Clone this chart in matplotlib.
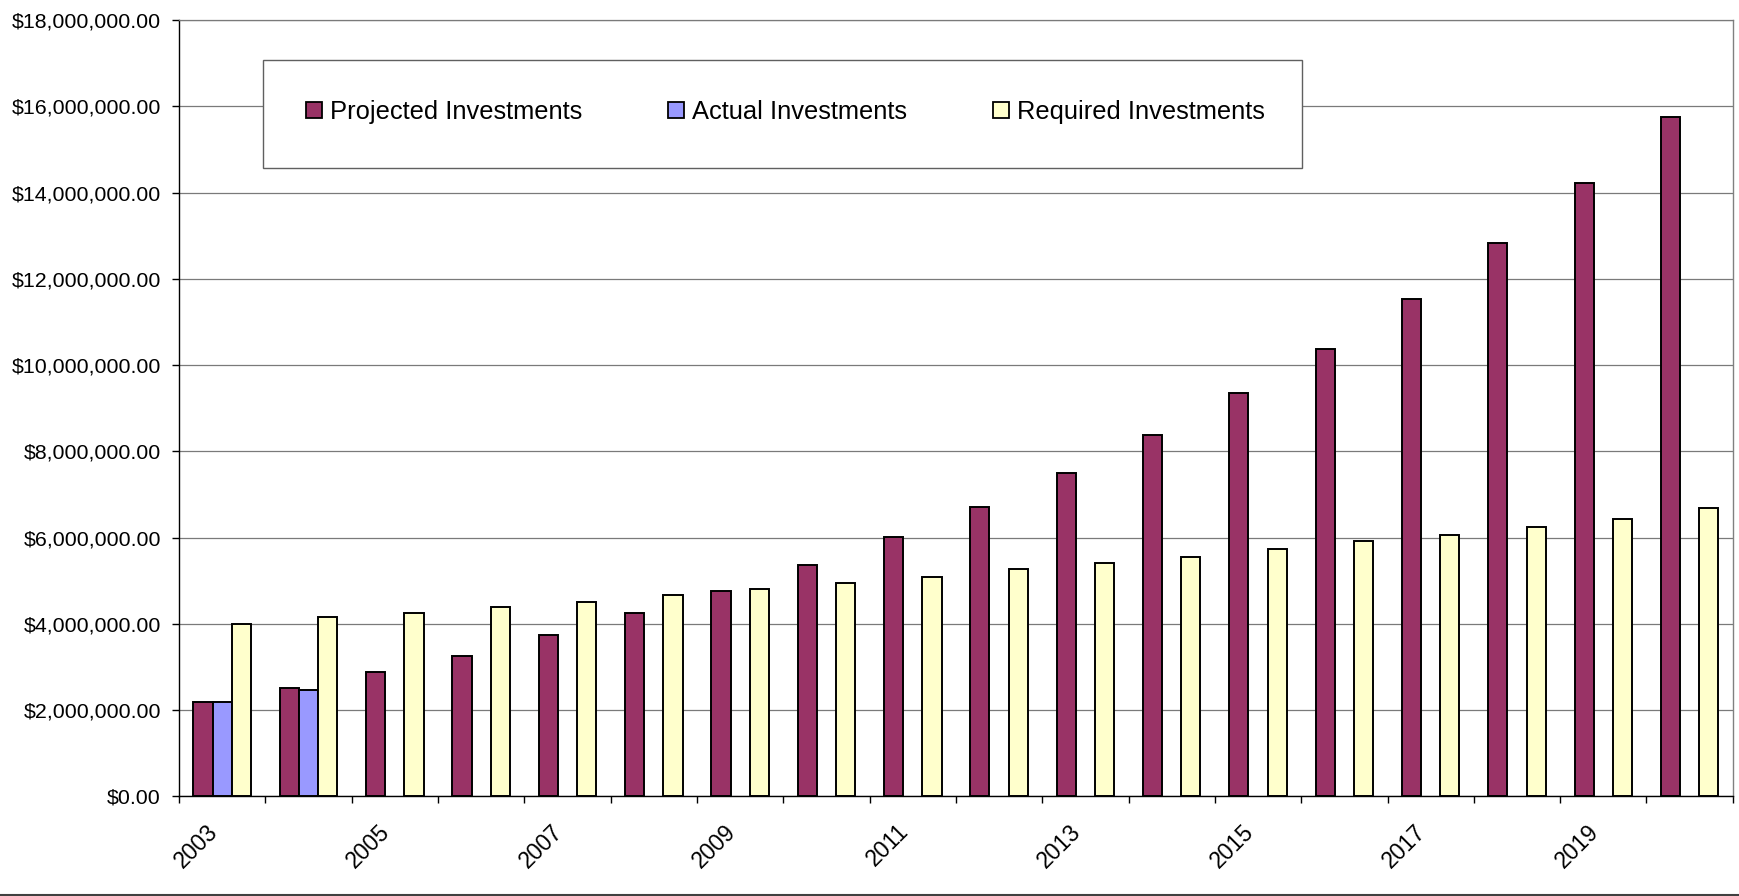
import numpy as np
import matplotlib
matplotlib.use("Agg")
import matplotlib.pyplot as plt
from matplotlib.patches import Patch, Rectangle
from matplotlib.lines import Line2D
from matplotlib.ticker import FuncFormatter, MultipleLocator, FixedLocator

# ---- data -------------------------------------------------------------
years = list(range(2003, 2021))
projected = [2.19e6, 2.52e6, 2.89e6, 3.26e6, 3.73e6, 4.25e6, 4.76e6, 5.36e6, 6.01e6,
             6.71e6, 7.50e6, 8.37e6, 9.35e6, 10.38e6, 11.53e6, 12.83e6, 14.22e6, 15.76e6]
actual = [2.19e6, 2.47e6] + [None] * 16
required = [4.00e6, 4.15e6, 4.24e6, 4.38e6, 4.51e6, 4.67e6, 4.80e6, 4.94e6, 5.08e6,
            5.27e6, 5.41e6, 5.55e6, 5.73e6, 5.91e6, 6.05e6, 6.24e6, 6.42e6, 6.68e6]
series_names = ["Projected Investments", "Actual Investments", "Required Investments"]
tick_years = [str(y) for y in years[::2]]

colors = ["#993366", "#9999FF", "#FFFFCC"]

plt.rcParams["font.family"] = ["Liberation Sans", "DejaVu Sans"]

W, H = 1739, 896
fig = plt.figure(figsize=(W / 100, H / 100), dpi=100)
ax = fig.add_axes([179 / W, 1 - 796.3 / H, (1732.8 - 179) / W, (796.3 - 20) / H])

x = np.arange(len(years))
bw = 1 / 4.5  # three bars per category, 150% gap
for i, (vals, col) in enumerate(zip([projected, actual, required], colors)):
    xs = [xi + (i - 1) * bw for xi, v in zip(x, vals) if v is not None]
    hs = [v for v in vals if v is not None]
    ax.bar(xs, hs, width=bw, color=col, edgecolor="black", linewidth=1.4, zorder=3)

ax.set_xlim(-0.5, len(years) - 0.5)
ax.set_ylim(0, 18e6)

# y axis
ax.yaxis.set_major_locator(MultipleLocator(2e6))
ax.yaxis.set_major_formatter(FuncFormatter(lambda v, p: f"${v:,.2f}"))
ax.tick_params(axis="y", length=5, width=1, color="black", pad=8, labelsize=15.4)
ax.grid(axis="y", color="#7a7a7a", linewidth=0.9, zorder=0)
ax.set_axisbelow(True)

# x axis: ticks at category boundaries, labels every other year
ax.xaxis.set_major_locator(FixedLocator(x[::2]))
ax.set_xticklabels(tick_years, rotation=45, ha="right", va="top")
ax.xaxis.set_minor_locator(FixedLocator(np.arange(-0.5, len(years), 1.0)))
ax.tick_params(axis="x", which="major", length=0, pad=17, labelsize=16.5)
ax.tick_params(axis="x", which="minor", length=5, width=1, color="black")

for s in ("left", "bottom"):
    ax.spines[s].set_color("black")
    ax.spines[s].set_linewidth(1.0)
ax.spines["right"].set_color("#808080")
ax.spines["right"].set_linewidth(1.0)
ax.spines["top"].set_color("#7a7a7a")
ax.spines["top"].set_linewidth(0.9)

# legend box
fig.add_artist(Rectangle((263 / W, 1 - 167.7 / H), (1302 - 263) / W, (167.7 - 60) / H,
                         transform=fig.transFigure, facecolor="white",
                         edgecolor="#606060", linewidth=1.0, zorder=1))
fs = 18.4
px = fs * 100 / 72
handles = [Patch(facecolor=c, edgecolor="black", linewidth=1.3) for c in colors]
fig.legend(handles, series_names, ncol=3, frameon=False, loc="center left",
           bbox_to_anchor=(306 / W, 1 - 112 / H), borderpad=0, borderaxespad=0,
           handlelength=16 / px, handleheight=16 / px, handletextpad=8 / px,
           columnspacing=86 / px, fontsize=fs)

# bottom border of the chart area
fig.add_artist(Line2D([0, 1], [0.6 / H, 0.6 / H], transform=fig.transFigure,
                      color="#404040", linewidth=1.5))

fig.savefig("out.png", dpi=100)
